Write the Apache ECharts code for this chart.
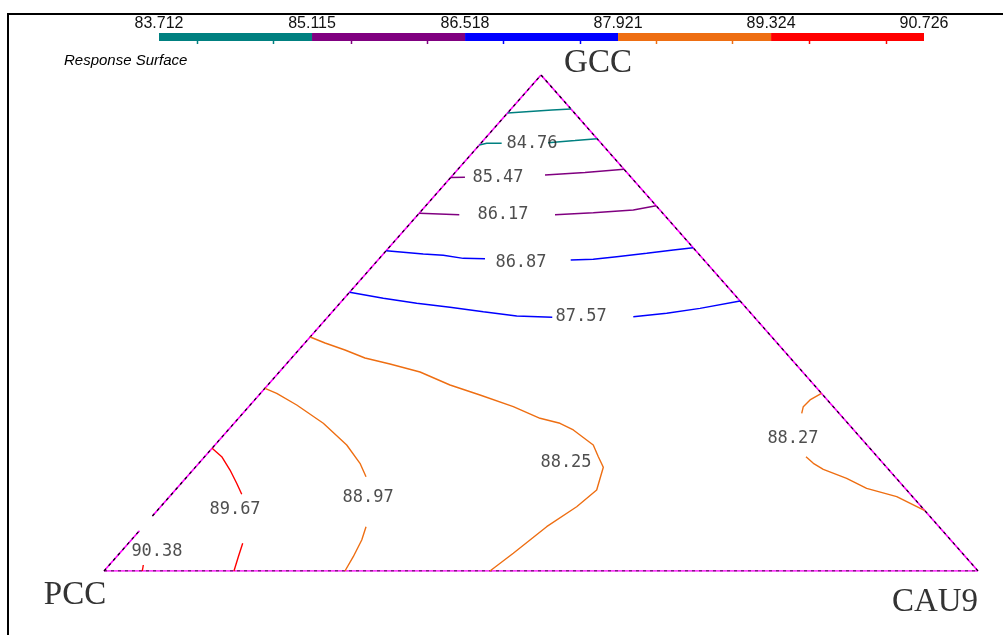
<!DOCTYPE html>
<html><head><meta charset="utf-8">
<script src="https://cdn.jsdelivr.net/npm/echarts@6/dist/echarts.min.js"></script>
<style>html,body{margin:0;padding:0;background:#fff}#c{width:1003px;height:635px}</style>
</head><body><div id="c"></div>
<script>
// ---- colour scale ----
const colorBreaks = [83.712, 85.115, 86.518, 87.921, 89.324, 90.726];
const colorTickLabels = ['83.712', '85.115', '86.518', '87.921', '89.324', '90.726'];
const colorBandColors = ['#008080', '#800080', '#0000FF', '#EE6E12', '#FF0000'];
const contourLevels = [84.06, 84.76, 85.47, 86.17, 86.87, 87.57, 88.27, 88.97, 89.67, 90.38];
const vertexNames = ['GCC', 'PCC', 'CAU9'];

// ---- triangle edges (plane coords: PCC=(0,0), CAU9=(1,0), GCC=(0.5,1)) ----
const edgeLeftLower = [[0, 0], [0.0406, 0.0813]];
const edgeLeftUpper = [[0.0554, 0.1109], [0.5, 1]];
const edgeRight = [[0.5, 1], [1, 0]];
const edgeBase = [[0, 0], [1, 0]];

// ---- contour polylines (plane coords) ----
const c8406 = [[0.4617,0.9234],[0.5126,0.9294],[0.5343,0.9315]];
const c8476a = [[0.4294,0.8589],[0.4379,0.8623],[0.4550,0.8623]];
const c8476b = [[0.5080,0.8635],[0.5389,0.8679],[0.5642,0.8716]];
const c8547a = [[0.3967,0.7933],[0.4130,0.7937]];
const c8547b = [[0.5046,0.7984],[0.5503,0.8034],[0.5950,0.8099]];
const c8617a = [[0.3606,0.7212],[0.4065,0.7183]];
const c8617b = [[0.5160,0.7183],[0.5598,0.7224],[0.6056,0.7278],[0.6318,0.7365]];
const c8687a = [[0.3229,0.6458],[0.3653,0.6391],[0.3882,0.6365],[0.4111,0.6304],[0.4359,0.6296]];
const c8687b = [[0.5340,0.6270],[0.5598,0.6284],[0.5866,0.6337],[0.6209,0.6405],[0.6514,0.6472],[0.6741,0.6518]];
const c8757a = [[0.2810,0.5619],[0.3196,0.5498],[0.3578,0.5397],[0.3959,0.5317],[0.4340,0.5228],[0.4722,0.5141],[0.5129,0.5115]];
const c8757b = [[0.6056,0.5127],[0.6438,0.5196],[0.6819,0.5296],[0.7278,0.5444]];
const c8825 = [[0.2359,0.4718],[0.2529,0.4597],[0.2757,0.4456],[0.2986,0.4294],[0.3272,0.4173],[0.3616,0.4012],[0.3959,0.3750],[0.4302,0.3548],[0.4683,0.3313],[0.4989,0.3079],[0.5217,0.2978],[0.5370,0.2843],[0.5598,0.2540],[0.5656,0.2304],[0.5713,0.2091],[0.5637,0.1633],[0.5408,0.1296],[0.5065,0.0893],[0.4683,0.0357],[0.4416,0]];
const c8827a = [[0.8209,0.3583],[0.8078,0.3448],[0.8001,0.3313],[0.7983,0.3179]];
const c8827b = [[0.8032,0.2304],[0.8116,0.2171],[0.8230,0.2050],[0.8497,0.1869],[0.8726,0.1667],[0.9070,0.1498],[0.9392,0.1216]];
const c8897a = [[0.1842,0.3683],[0.1976,0.3583],[0.2205,0.3347],[0.2509,0.2978],[0.2777,0.2540],[0.2929,0.2171],[0.2998,0.1901]];
const c8897b = [[0.2998,0.0893],[0.2949,0.0625],[0.2852,0.0288],[0.2757,0]];
const c8967a = [[0.1237,0.2474],[0.1347,0.2304],[0.1442,0.2036],[0.1518,0.1768],[0.1576,0.1546]];
const c8967b = [[0.1587,0.0558],[0.1537,0.0288],[0.1487,0]];
const c9038 = [[0.0450,0.0121],[0.0438,0]];

const contourSegments = [
  [84.06, c8406], [84.76, c8476a], [84.76, c8476b], [85.47, c8547a], [85.47, c8547b],
  [86.17, c8617a], [86.17, c8617b], [86.87, c8687a], [86.87, c8687b], [87.57, c8757a], [87.57, c8757b],
  [88.27, c8825], [88.27, c8827a], [88.27, c8827b], [88.97, c8897a], [88.97, c8897b],
  [89.67, c8967a], [89.67, c8967b], [90.38, c9038]
];

// ---- contour labels ----
const labelTexts = ['84.76', '85.47', '86.17', '86.87', '87.57', '88.25', '88.27', '88.97', '89.67', '90.38'];
const labelPoints = [[0.4897,0.8609],[0.4508,0.7923],[0.4565,0.7177],[0.4771,0.6210],[0.5458,0.5121],[0.5286,0.2177],[0.7883,0.2661],[0.3021,0.1472],[0.1499,0.1230],[0.0606,0.0383]];

function bandColor(v) {
  for (let i = 0; i < colorBandColors.length; i++) {
    if (v >= colorBreaks[i] && v <= colorBreaks[i + 1]) return colorBandColors[i];
  }
  return '#000';
}

const series = [];
[edgeLeftLower, edgeLeftUpper, edgeRight, edgeBase].forEach(seg => {
  series.push({ type: 'line', data: seg, xAxisIndex: 0, yAxisIndex: 0, showSymbol: false, silent: true,
    lineStyle: { color: '#FF00FF', width: 1.6 }, z: 2 });
  series.push({ type: 'line', data: seg, xAxisIndex: 0, yAxisIndex: 0, showSymbol: false, silent: true,
    lineStyle: { color: '#000000', width: 1.2, type: [3, 4] }, z: 3 });
});
contourSegments.forEach(([lvl, seg]) => {
  series.push({ type: 'line', data: seg, xAxisIndex: 0, yAxisIndex: 0, showSymbol: false, silent: true,
    lineStyle: { color: bandColor(lvl), width: 1.4 }, z: 4 });
});
series.push({
  type: 'scatter', xAxisIndex: 0, yAxisIndex: 0, silent: true, z: 5,
  data: labelPoints.map((p, i) => ({ value: p, name: labelTexts[i] })),
  symbolSize: 1, itemStyle: { color: 'rgba(0,0,0,0)' },
  label: { show: true, position: 'inside', formatter: p => p.name,
    fontFamily: 'DejaVu Sans Mono', fontSize: 17, color: '#222' }
});
// colour bar bands
series.push({
  type: 'custom', xAxisIndex: 1, yAxisIndex: 1, silent: true,
  data: colorBandColors.map((c, i) => [colorBreaks[i], colorBreaks[i + 1]]),
  encode: { x: [0, 1] },
  renderItem: (params, api) => {
    const p0 = api.coord([api.value(0), 1]);
    const p1 = api.coord([api.value(1), 0]);
    return { type: 'rect', shape: { x: p0[0], y: p0[1], width: p1[0] - p0[0], height: p1[1] - p0[1] },
      style: { fill: colorBandColors[params.dataIndex] } };
  }
});
// colour bar ticks at contour levels
series.push({
  type: 'custom', xAxisIndex: 1, yAxisIndex: 1, silent: true,
  data: contourLevels.map(v => [v]),
  encode: { x: 0 },
  renderItem: (params, api) => {
    const p = api.coord([api.value(0), 0]);
    return { type: 'line', shape: { x1: Math.round(p[0]) + 0.5, y1: p[1] - 1, x2: Math.round(p[0]) + 0.5, y2: p[1] + 3 },
      style: { stroke: bandColor(api.value(0)), lineWidth: 1.5 } };
  }
});

const option = {
  backgroundColor: '#fff',
  animation: false,
  grid: [
    { left: 104, top: 75, width: 874, height: 496 },
    { left: 159, top: 33, width: 765, height: 8 }
  ],
  xAxis: [
    { type: 'value', gridIndex: 0, min: 0, max: 1, show: false },
    { type: 'value', gridIndex: 1, min: colorBreaks[0], max: colorBreaks[colorBreaks.length - 1], position: 'top',
      axisLine: { show: false }, axisTick: { show: false }, splitLine: { show: false },
      axisLabel: { customValues: colorBreaks, margin: 1, fontFamily: 'Liberation Sans', fontSize: 16, color: '#111',
        formatter: v => colorTickLabels[colorBreaks.indexOf(v)] } }
  ],
  yAxis: [
    { type: 'value', gridIndex: 0, min: 0, max: 1, show: false },
    { type: 'value', gridIndex: 1, min: 0, max: 1, show: false }
  ],
  graphic: [
    { type: 'polyline', shape: { points: [[8, 640], [8, 14], [1010, 14]] }, style: { stroke: '#000', lineWidth: 2, fill: null } },
    { type: 'text', left: 64, top: 53, style: { text: 'Response Surface', font: 'italic 15px "Liberation Sans"', fill: '#000' } },
    { type: 'text', x: 598, y: 63, style: { text: vertexNames[0], font: '33px "Liberation Serif"', fill: '#333', align: 'center', verticalAlign: 'middle' } },
    { type: 'text', x: 75, y: 595, style: { text: vertexNames[1], font: '33px "Liberation Serif"', fill: '#333', align: 'center', verticalAlign: 'middle' } },
    { type: 'text', x: 935, y: 602, style: { text: vertexNames[2], font: '33px "Liberation Serif"', fill: '#333', align: 'center', verticalAlign: 'middle' } }
  ],
  series: series
};
const chart = echarts.init(document.getElementById('c'), null, { renderer: 'canvas' });
chart.setOption(option);
</script></body></html>
